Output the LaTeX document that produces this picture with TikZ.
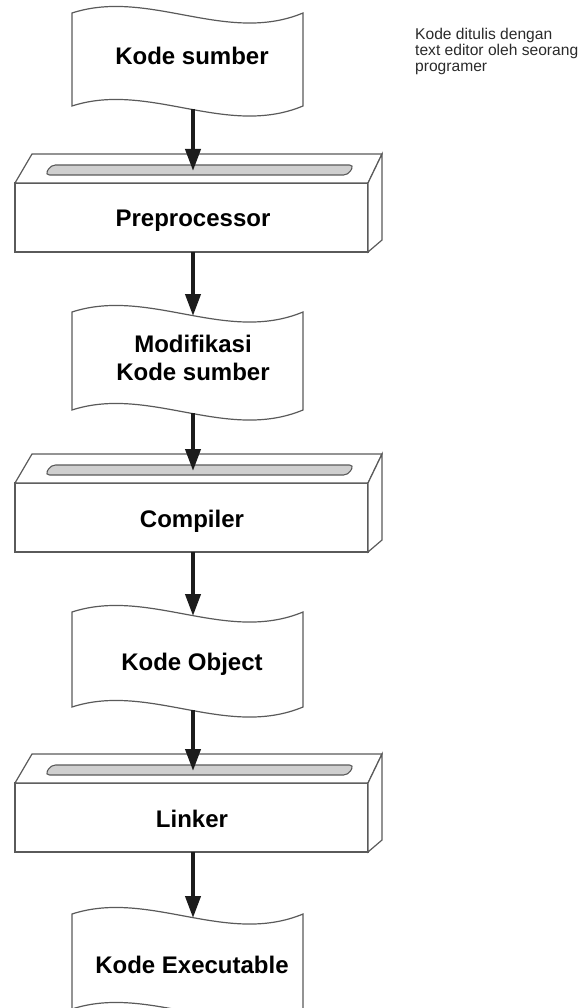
\documentclass[tikz,border=0pt]{standalone}
\usepackage{fontspec}
\setmainfont{Liberation Sans}
\usetikzlibrary{arrows.meta}
\definecolor{edge}{HTML}{5A5A5A}
\definecolor{slotgray}{HTML}{CFCFCF}
\definecolor{arrowc}{HTML}{1C1C1C}
\definecolor{notec}{HTML}{2A2A2A}
\tikzset{
  docline/.style={draw=edge, line width=1.2pt, fill=white},
  boxline/.style={draw=edge, line width=1.2pt, fill=white, line join=miter},
  slotline/.style={draw=edge, line width=1.1pt, fill=slotgray, rounded corners=4.5pt},
  flow/.style={draw=arrowc, line width=4pt, -{Triangle[length=22pt,width=15pt]}, shorten >=-1pt},
  lab/.style={font=\fontsize{24}{28}\selectfont\bfseries, text=black, anchor=base, inner sep=0pt},
  note/.style={font=\fontsize{15.6}{16}\selectfont, text=notec, align=left, anchor=north west, inner sep=0pt}
}
\newcommand{\docshape}[2]{%
  \draw[docline] (72,#1) .. controls (149,#1-25) and (226,#1+32) .. (303,#1)
    -- (303,#1+#2) .. controls (226,#1+#2+32) and (149,#1+#2-25) .. (72,#1+#2) -- cycle;}
\newcommand{\procbox}[1]{%
  \draw[boxline] (15,183+#1) rectangle (368,252+#1);
  \draw[boxline] (15,183+#1) -- (32,154+#1) -- (382,154+#1) -- (368,183+#1) -- cycle;
  \draw[boxline] (368,183+#1) -- (382,154+#1) -- (382,240+#1) -- (368,252+#1) -- cycle;
  \draw[slotline] (45,175+#1) -- (51,165+#1) -- (354,165+#1) -- (348,175+#1) -- cycle;}
\begin{document}
\begin{tikzpicture}[x=1pt,y=-1pt]
\useasboundingbox (0,0) rectangle (579,1008);
% documents
\docshape{13}{93}
\docshape{312}{98}
\docshape{612}{95}
\docshape{914}{95}
% processing boxes
\procbox{0}
\procbox{300}
\procbox{600}
% labels
\node[lab] (ks) at (192,65) {Kode sumber};
\node[lab] (pre) at (193,227) {Preprocessor};
\node[lab] (mod1) at (193,352) {Modifikasi};
\node[lab] (mod2) at (193,380) {Kode sumber};
\node[lab] (comp) at (192,527) {Compiler};
\node[lab] (obj) at (192,670) {Kode Object};
\node[lab] (link) at (192,827) {Linker};
\node[lab] (exe) at (192,973) {Kode Executable};
\node[note] (note) at (415,28) {Kode ditulis dengan\\text editor oleh seorang\\programer};
% ports
\coordinate (d1b) at (193,109);
\coordinate (b1s) at (193,170);
\coordinate (b1b) at (193,252);
\coordinate (d2t) at (193,315);
\coordinate (d2b) at (193,413);
\coordinate (b2s) at (193,470);
\coordinate (b2b) at (193,552);
\coordinate (d3t) at (193,615);
\coordinate (d3b) at (193,710);
\coordinate (b3s) at (193,770);
\coordinate (b3b) at (193,852);
\coordinate (d4t) at (193,917);
% connectors
\draw[flow] (d1b) -- (b1s);
\draw[flow] (b1b) -- (d2t);
\draw[flow] (d2b) -- (b2s);
\draw[flow] (b2b) -- (d3t);
\draw[flow] (d3b) -- (b3s);
\draw[flow] (b3b) -- (d4t);
\end{tikzpicture}
\end{document}
